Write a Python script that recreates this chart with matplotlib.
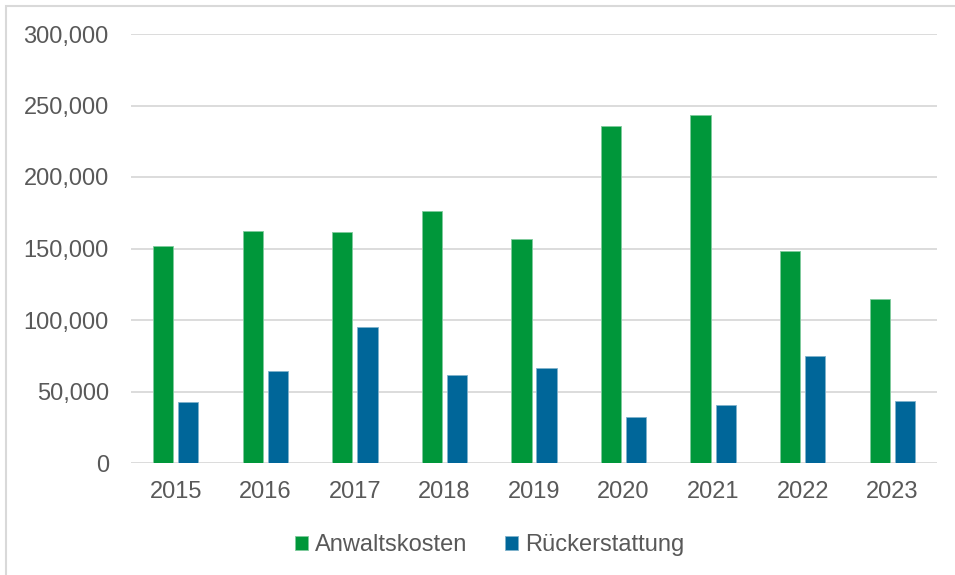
import numpy as np
import matplotlib.pyplot as plt
from matplotlib.patches import Rectangle
from matplotlib.ticker import FuncFormatter

plt.rcParams['font.family'] = ['Liberation Sans', 'DejaVu Sans']

years = ['2015', '2016', '2017', '2018', '2019', '2020', '2021', '2022', '2023']
anwaltskosten = [152000, 162000, 161300, 176500, 156700, 236000, 243600, 148300, 114800]
rueckerstattung = [42800, 64400, 94900, 61600, 66500, 32300, 40400, 74700, 43400]

green = '#00973a'
blue = '#006699'
text_col = '#595959'
grid_col = '#d9d9d9'

fig = plt.figure(figsize=(9.55, 5.75), dpi=100)
ax = fig.add_axes([131 / 955, 1 - 463 / 575, 806 / 955, 429 / 575])

x = np.arange(len(years))
w = 0.225
off = 0.14
ax.bar(x - off, anwaltskosten, w, color=green, edgecolor='#7fcb9c', linewidth=0.6,
       label='Anwaltskosten', zorder=3)
ax.bar(x + off, rueckerstattung, w, color=blue, edgecolor='#7fb2cc', linewidth=0.6,
       label='Rückerstattung', zorder=3)

ax.set_xlim(-0.5, len(years) - 0.5)
ax.set_ylim(0, 300000)
ax.set_yticks(np.arange(0, 300001, 50000))
ax.yaxis.set_major_formatter(FuncFormatter(lambda v, p: f'{int(v):,}'))
ax.set_xticks(x)
ax.set_xticklabels(years)
ax.grid(axis='y', color=grid_col, linewidth=1.3, zorder=0)
ax.tick_params(length=0, labelsize=17, colors=text_col)
ax.tick_params(axis='y', pad=16)
ax.tick_params(axis='x', pad=13)
for s in ax.spines.values():
    s.set_visible(False)

leg = fig.legend(loc='center', bbox_to_anchor=(490 / 955, 1 - 545 / 575), ncol=2,
                 frameon=False, fontsize=17, handlelength=0.55, handleheight=0.55,
                 handletextpad=0.3, columnspacing=1.6, borderaxespad=0)
for t in leg.get_texts():
    t.set_color(text_col)

# light frame around the chart area (left and top edges visible)
fig.add_artist(Rectangle((6 / 955, -0.1), 1.2, 1 - 6 / 575 + 0.1, transform=fig.transFigure,
                         fill=False, edgecolor='#d9d9d9', linewidth=1.5))

fig.savefig('out.png', facecolor='white')
